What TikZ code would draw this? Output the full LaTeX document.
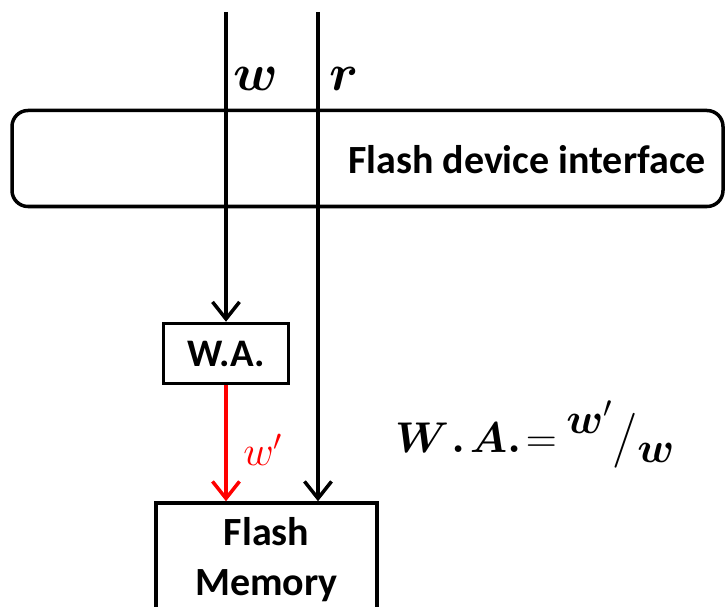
\documentclass[tikz,border=0pt]{standalone}
\usepackage{fix-cm}
\usepackage{fontspec}
\setmainfont{Carlito}
\usepackage{bm}
\usetikzlibrary{arrows.meta}
\tikzset{
  thick line/.style={line width=3.5pt},
  tipped/.style={thick line,-{Straight Barb[length=17pt,width=27pt]}},
  boxed/.style={draw,thick line,inner sep=0pt},
  lbl/.style={font=\fontsize{40}{48}\selectfont\bfseries,inner sep=0pt},
  mathlbl/.style={font=\fontsize{52}{60}\selectfont,inner sep=0pt},
}
\begin{document}
\begin{tikzpicture}[x=1pt,y=-1pt]
\useasboundingbox (0,0) rectangle (726,607);
\clip (0,0) rectangle (726,607);
\fill[white] (0,0) rectangle (726,607);

% interface bar
\node[boxed,rounded corners=16pt,minimum width=711pt,minimum height=96pt] (iface) at (367.5,158.5) {};
\node[lbl] (ifacetext) at (527,160) {Flash device interface};

% W.A. box
\node[boxed,minimum width=125pt,minimum height=60pt] (wa) at (226,353.5) {};
\node[lbl,font=\fontsize{39}{46}\selectfont\bfseries] (watext) at (226,354) {W.A.};

% Flash memory box
\node[boxed,minimum width=221pt,minimum height=140pt] (fm) at (266.5,573) {};
\node[lbl,align=center,font=\fontsize{40}{50}\selectfont\bfseries] (fmtext) at (266.5,560) {Flash\\Memory};

% connectors
\coordinate (wtop) at (226,12);
\coordinate (rtop) at (318,12);
\draw[tipped] (wtop) -- (wa.north);
\draw[tipped] (rtop) -- (rtop |- fm.north);
\draw[tipped,red] (wa.south) -- (wa.south |- fm.north);

% labels
\node[mathlbl] (wl) at (256,79) {$\bm{w}$};
\node[mathlbl] (rl) at (344,79) {$\bm{r}$};
\node[mathlbl,font=\fontsize{42}{50}\selectfont,text=red] (wpl) at (263,450) {$w'$};

% formula
\node[mathlbl,font=\fontsize{43}{52}\selectfont,anchor=base west] (formula) at (395,452)
  {$\bm{W}\mkern1mu\bm{.}\mkern2mu\bm{A}\bm{.}\mkern2mu{=}\mkern4mu\raisebox{19pt}{$\bm{w}'$}\raisebox{-2pt}{\fontsize{55}{60}\selectfont$/$}\raisebox{-10pt}{$\bm{w}$}$};

% cut-off glyph at lower right
\node[mathlbl,font=\fontsize{48}{56}\selectfont] (frag) at (714,622) {$\bm{w}$};
\end{tikzpicture}
\end{document}
